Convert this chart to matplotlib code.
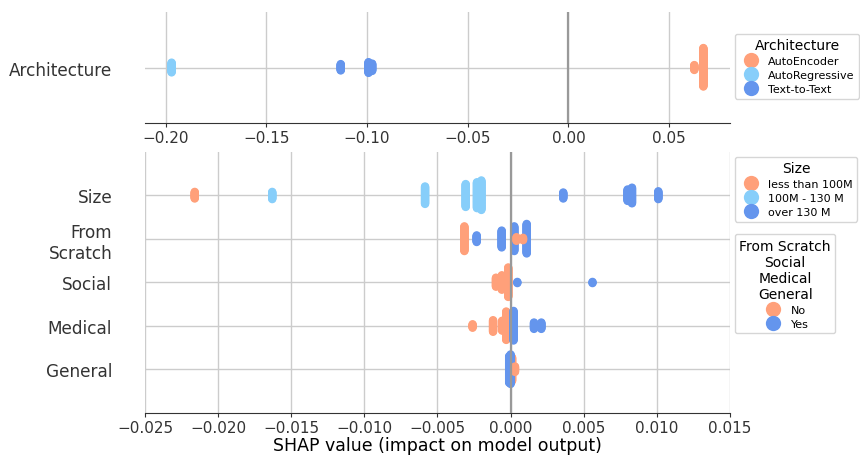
import numpy as np
import matplotlib.pyplot as plt
from matplotlib.lines import Line2D

# colours used by the three category levels
orange = "#FFA07A"
light_blue = "#87CEFA"
blue = "#6495ED"

# top panel: Architecture (shap value, number of samples, group)
arch_vals = [-0.1971, -0.1131, -0.0993, -0.0975, 0.0625, 0.0670]
arch_counts = [21, 14, 23, 16, 11, 80]
arch_group = [1, 2, 2, 2, 0, 0]
arch_labels = ["AutoEncoder", "AutoRegressive", "Text-to-Text"]

# bottom panel rows
size_vals = [-0.0216, -0.0163, -0.00585, -0.00307, -0.0023, -0.0020, 0.0036, 0.0080, 0.0083, 0.0101]
size_counts = [12, 13, 30, 39, 44, 50, 11, 20, 27, 14]
size_group = [0, 1, 1, 1, 1, 1, 2, 2, 2, 2]
size_labels = ["less than 100M", "100M - 130 M", "over 130 M"]

scratch_vals = [-0.00316, -0.00232, -0.00061, 0.00025, 0.0011, 0.0004, 0.00085]
scratch_counts = [42, 12, 29, 42, 50, 7, 5]
scratch_group = [0, 2, 2, 2, 2, 0, 0]

social_vals = [-0.0010, -0.0006, -0.00016, 0.00046, 0.0056]
social_counts = [16, 25, 50, 3, 3]
social_group = [0, 0, 0, 2, 2]

medical_vals = [-0.0026, -0.0012, -0.00058, -0.0003, 0.0002, 0.0016, 0.0021]
medical_counts = [7, 21, 18, 50, 52, 12, 12]
medical_group = [0, 0, 0, 0, 2, 2, 2]

general_vals = [-0.0001, 0.0001, 0.0, 0.0003]
general_counts = [45, 40, 50, 10]
general_group = [2, 0, 2, 0]

binary_labels = ["No", "Yes"]
row_names = ["General", "Medical", "Social", "From\nScratch", "Size"]

colors = [orange, light_blue, blue]


def swarm(vals, row_height=0.4, nbins=100):
    # shap style stacking of points that fall in the same bin
    quant = np.round(nbins * (vals - vals.min()) / (vals.max() - vals.min() + 1e-8))
    inds = np.argsort(quant, kind="stable")
    ys = np.zeros(len(vals))
    layer = 0
    last = -1
    for i in inds:
        if quant[i] != last:
            layer = 0
        ys[i] = np.ceil(layer / 2) * ((layer % 2) * 2 - 1)
        layer += 1
        last = quant[i]
    ys *= 0.9 * (row_height / np.max(ys + 1))
    return ys


def draw_row(ax, pos, vals, counts, group):
    x = np.repeat(vals, counts)
    g = np.repeat(group, counts)
    y = pos + swarm(x)
    ax.scatter(x, y, c=[colors[k] for k in g], s=36, linewidth=0, zorder=2)


def style(ax):
    for s in ["top", "right", "left"]:
        ax.spines[s].set_visible(False)
    ax.spines["bottom"].set_color("#333333")
    ax.grid(True, color="#cccccc", lw=1)
    ax.set_axisbelow(True)
    ax.axvline(0, color="#999999", lw=1.6, zorder=3)
    ax.tick_params(axis="y", length=0, pad=23.5, labelsize=12.2, labelcolor="#333333")
    ax.tick_params(axis="x", labelsize=11, labelcolor="#333333", color="#333333",
                   length=3, pad=2)


fig = plt.figure(figsize=(8.6, 4.6), dpi=100)
ax1 = fig.add_axes([0.1686, 0.7304, 0.6802, 0.2413])
ax2 = fig.add_axes([0.1686, 0.1, 0.6802, 0.5674])

draw_row(ax1, 0, arch_vals, arch_counts, arch_group)
ax1.set_ylim(-1, 1)
ax1.set_yticks([0])
ax1.set_yticklabels(["Architecture"])
style(ax1)

rows = [
    (general_vals, general_counts, general_group),
    (medical_vals, medical_counts, medical_group),
    (social_vals, social_counts, social_group),
    (scratch_vals, scratch_counts, scratch_group),
    (size_vals, size_counts, size_group),
]
for pos, (v, n, g) in enumerate(rows):
    draw_row(ax2, pos, v, n, g)
ax2.set_ylim(-1, 5)
ax2.set_xlim(-0.025, 0.015)
ax2.set_yticks(range(5))
ax2.set_yticklabels(row_names)
style(ax2)
ax2.set_xlabel("SHAP value (impact on model output)", fontsize=12.5, labelpad=1)


def handles(cols):
    return [Line2D([], [], marker="o", ls="", markersize=11,
                   markerfacecolor=c, markeredgewidth=0) for c in cols]


leg_kw = dict(loc="upper left", fontsize=8, title_fontsize=10,
              borderaxespad=0, labelspacing=0.35, handletextpad=0.6)
fig.legend(handles(colors), arch_labels, title="Architecture",
           bbox_to_anchor=(0.8547, 0.924), **leg_kw)
fig.legend(handles(colors), size_labels, title="Size",
           bbox_to_anchor=(0.8547, 0.6565), **leg_kw)
leg3 = fig.legend(handles([orange, blue]), binary_labels,
                  title="From Scratch\nSocial\nMedical\nGeneral",
                  bbox_to_anchor=(0.8547, 0.489), **leg_kw)
leg3.get_title().set_multialignment("center")

fig.savefig("out.png", dpi=100)
